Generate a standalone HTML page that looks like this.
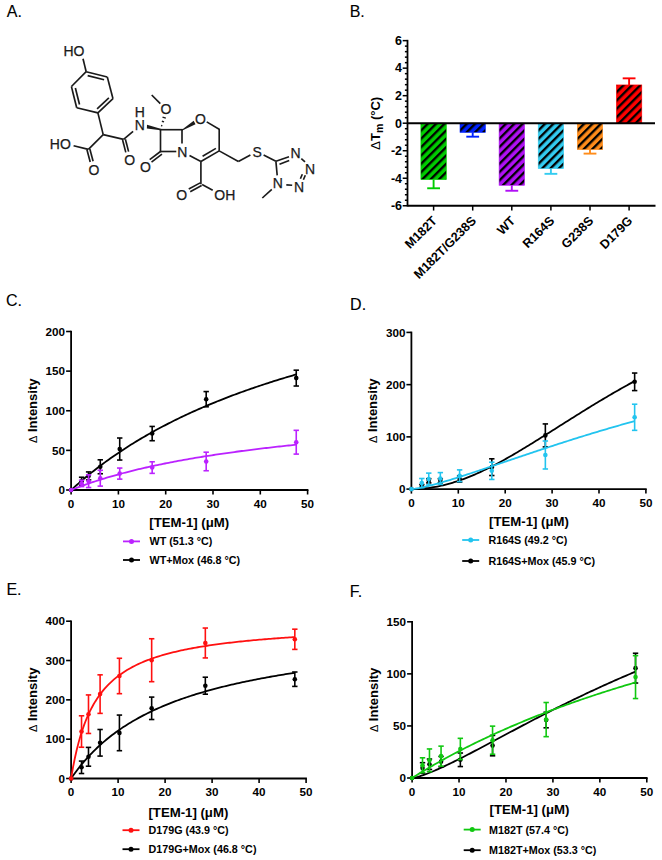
<!DOCTYPE html>
<html><head><meta charset="utf-8"><style>
html,body{margin:0;padding:0;background:#fff;}
body{width:662px;height:860px;overflow:hidden;}
svg{display:block;font-family:"Liberation Sans", sans-serif;}
</style></head><body>
<svg width="662" height="860" viewBox="0 0 662 860">
<rect width="662" height="860" fill="#fff"/>
<text x="6.8" y="17.3" font-size="16" stroke="#000" stroke-width="0.12">A.</text>
<text x="349.7" y="17.3" font-size="16" stroke="#000" stroke-width="0.12">B.</text>
<text x="6.0" y="305.5" font-size="16" stroke="#000" stroke-width="0.12">C.</text>
<text x="350.1" y="310.2" font-size="16" stroke="#000" stroke-width="0.12">D.</text>
<text x="6.4" y="595.3" font-size="16" stroke="#000" stroke-width="0.12">E.</text>
<text x="349.8" y="596.6" font-size="16" stroke="#000" stroke-width="0.12">F.</text>
<line x1="86.20" y1="71.70" x2="107.30" y2="77.00" stroke="#1a1a1a" stroke-width="1.65"/>
<line x1="107.30" y1="77.00" x2="113.00" y2="98.70" stroke="#1a1a1a" stroke-width="1.65"/>
<line x1="113.00" y1="98.70" x2="97.90" y2="112.90" stroke="#1a1a1a" stroke-width="1.65"/>
<line x1="97.90" y1="112.90" x2="76.70" y2="107.70" stroke="#1a1a1a" stroke-width="1.65"/>
<line x1="76.70" y1="107.70" x2="71.40" y2="86.50" stroke="#1a1a1a" stroke-width="1.65"/>
<line x1="71.40" y1="86.50" x2="86.20" y2="71.70" stroke="#1a1a1a" stroke-width="1.65"/>
<line x1="87.65" y1="75.67" x2="104.10" y2="79.81" stroke="#1a1a1a" stroke-width="1.65"/>
<line x1="108.87" y1="97.79" x2="97.09" y2="108.86" stroke="#1a1a1a" stroke-width="1.65"/>
<line x1="79.50" y1="104.49" x2="75.37" y2="87.95" stroke="#1a1a1a" stroke-width="1.65"/>
<text x="73.9" y="56.20" text-anchor="middle" font-size="14" fill="#1a1a1a" stroke="#1a1a1a" stroke-width="0.25">HO</text>
<line x1="83.00" y1="58.80" x2="86.20" y2="71.70" stroke="#1a1a1a" stroke-width="1.65"/>
<line x1="97.90" y1="112.90" x2="103.20" y2="134.60" stroke="#1a1a1a" stroke-width="1.65"/>
<line x1="103.20" y1="134.60" x2="88.40" y2="149.40" stroke="#1a1a1a" stroke-width="1.65"/>
<line x1="103.20" y1="134.60" x2="123.60" y2="139.40" stroke="#1a1a1a" stroke-width="1.65"/>
<line x1="88.40" y1="149.40" x2="73.60" y2="145.70" stroke="#1a1a1a" stroke-width="1.65"/>
<text x="60.35" y="149.40" text-anchor="middle" font-size="14" fill="#1a1a1a" stroke="#1a1a1a" stroke-width="0.25">HO</text>
<line x1="86.95" y1="149.78" x2="90.20" y2="162.08" stroke="#1a1a1a" stroke-width="1.65"/>
<line x1="89.85" y1="149.02" x2="93.10" y2="161.32" stroke="#1a1a1a" stroke-width="1.65"/>
<text x="93.9" y="175.30" text-anchor="middle" font-size="14" fill="#1a1a1a" stroke="#1a1a1a" stroke-width="0.25">O</text>
<line x1="123.60" y1="139.40" x2="133.10" y2="131.30" stroke="#1a1a1a" stroke-width="1.65"/>
<line x1="122.60" y1="139.96" x2="125.80" y2="152.36" stroke="#1a1a1a" stroke-width="1.65"/>
<line x1="125.40" y1="139.24" x2="128.60" y2="151.64" stroke="#1a1a1a" stroke-width="1.65"/>
<text x="129.75" y="165.30" text-anchor="middle" font-size="14" fill="#1a1a1a" stroke="#1a1a1a" stroke-width="0.25">O</text>
<text x="139.7" y="129.50" text-anchor="middle" font-size="14" fill="#1a1a1a" stroke="#1a1a1a" stroke-width="0.25">N</text>
<text x="139.7" y="116.80" text-anchor="middle" font-size="14" fill="#1a1a1a" stroke="#1a1a1a" stroke-width="0.25">H</text>
<polygon points="147.0,124.8 160.6,128.8 160.6,130.3 146.9,128.6" fill="#1a1a1a"/>
<line x1="161.03" y1="125.48" x2="162.36" y2="125.92" stroke="#1a1a1a" stroke-width="1.4"/>
<line x1="161.85" y1="121.24" x2="164.04" y2="121.96" stroke="#1a1a1a" stroke-width="1.4"/>
<line x1="162.50" y1="117.06" x2="165.82" y2="118.14" stroke="#1a1a1a" stroke-width="1.4"/>
<text x="165.9" y="114.30" text-anchor="middle" font-size="14" fill="#1a1a1a" stroke="#1a1a1a" stroke-width="0.25">O</text>
<line x1="160.30" y1="103.60" x2="151.70" y2="95.00" stroke="#1a1a1a" stroke-width="1.65"/>
<line x1="159.70" y1="129.70" x2="182.80" y2="129.70" stroke="#1a1a1a" stroke-width="1.65"/>
<line x1="160.50" y1="128.90" x2="160.50" y2="152.30" stroke="#1a1a1a" stroke-width="1.65"/>
<line x1="159.70" y1="151.50" x2="176.30" y2="151.50" stroke="#1a1a1a" stroke-width="1.65"/>
<line x1="182.00" y1="128.90" x2="182.00" y2="143.60" stroke="#1a1a1a" stroke-width="1.65"/>
<text x="182.3" y="156.60" text-anchor="middle" font-size="14" fill="#1a1a1a" stroke="#1a1a1a" stroke-width="0.25">N</text>
<line x1="160.14" y1="151.76" x2="149.69" y2="159.71" stroke="#1a1a1a" stroke-width="1.65"/>
<line x1="161.96" y1="154.14" x2="151.51" y2="162.09" stroke="#1a1a1a" stroke-width="1.65"/>
<text x="145.5" y="171.60" text-anchor="middle" font-size="14" fill="#1a1a1a" stroke="#1a1a1a" stroke-width="0.25">O</text>
<polygon points="181.6,129.9 193.7,120.8 195.5,124.3 182.3,130.5" fill="#1a1a1a"/>
<text x="200.4" y="124.40" text-anchor="middle" font-size="14" fill="#1a1a1a" stroke="#1a1a1a" stroke-width="0.25">O</text>
<line x1="206.70" y1="121.90" x2="219.20" y2="129.20" stroke="#1a1a1a" stroke-width="1.65"/>
<line x1="219.20" y1="128.70" x2="219.20" y2="150.90" stroke="#1a1a1a" stroke-width="1.65"/>
<line x1="219.20" y1="150.90" x2="200.90" y2="161.50" stroke="#1a1a1a" stroke-width="1.65"/>
<line x1="215.90" y1="148.40" x2="202.60" y2="156.20" stroke="#1a1a1a" stroke-width="1.65"/>
<line x1="189.50" y1="155.60" x2="200.90" y2="161.50" stroke="#1a1a1a" stroke-width="1.65"/>
<line x1="200.90" y1="161.50" x2="200.90" y2="184.20" stroke="#1a1a1a" stroke-width="1.65"/>
<line x1="200.18" y1="182.88" x2="188.78" y2="189.08" stroke="#1a1a1a" stroke-width="1.65"/>
<line x1="201.62" y1="185.52" x2="190.22" y2="191.72" stroke="#1a1a1a" stroke-width="1.65"/>
<text x="181.8" y="199.80" text-anchor="middle" font-size="14" fill="#1a1a1a" stroke="#1a1a1a" stroke-width="0.25">O</text>
<line x1="202.10" y1="184.50" x2="212.70" y2="190.30" stroke="#1a1a1a" stroke-width="1.65"/>
<text x="224.85" y="199.80" text-anchor="middle" font-size="14" fill="#1a1a1a" stroke="#1a1a1a" stroke-width="0.25">OH</text>
<line x1="219.20" y1="150.90" x2="238.40" y2="161.50" stroke="#1a1a1a" stroke-width="1.65"/>
<line x1="238.40" y1="161.50" x2="250.40" y2="155.10" stroke="#1a1a1a" stroke-width="1.65"/>
<text x="257.2" y="157.20" text-anchor="middle" font-size="14" fill="#1a1a1a" stroke="#1a1a1a" stroke-width="0.25">S</text>
<line x1="263.60" y1="155.00" x2="275.90" y2="161.30" stroke="#1a1a1a" stroke-width="1.65"/>
<line x1="275.90" y1="161.30" x2="289.00" y2="156.80" stroke="#1a1a1a" stroke-width="1.65"/>
<line x1="279.50" y1="164.20" x2="289.20" y2="160.60" stroke="#1a1a1a" stroke-width="1.65"/>
<text x="295.6" y="157.70" text-anchor="middle" font-size="14" fill="#1a1a1a" stroke="#1a1a1a" stroke-width="0.25">N</text>
<line x1="301.30" y1="158.60" x2="305.00" y2="161.80" stroke="#1a1a1a" stroke-width="1.65"/>
<text x="310.1" y="173.50" text-anchor="middle" font-size="14" fill="#1a1a1a" stroke="#1a1a1a" stroke-width="0.25">N</text>
<line x1="305.30" y1="175.20" x2="303.40" y2="179.70" stroke="#1a1a1a" stroke-width="1.65"/>
<line x1="302.30" y1="174.30" x2="300.40" y2="178.80" stroke="#1a1a1a" stroke-width="1.65"/>
<text x="299" y="192.00" text-anchor="middle" font-size="14" fill="#1a1a1a" stroke="#1a1a1a" stroke-width="0.25">N</text>
<line x1="292.20" y1="185.30" x2="286.30" y2="184.90" stroke="#1a1a1a" stroke-width="1.65"/>
<text x="277.9" y="187.60" text-anchor="middle" font-size="14" fill="#1a1a1a" stroke="#1a1a1a" stroke-width="0.25">N</text>
<line x1="277.20" y1="175.40" x2="275.90" y2="161.30" stroke="#1a1a1a" stroke-width="1.65"/>
<line x1="271.80" y1="189.40" x2="262.30" y2="198.00" stroke="#1a1a1a" stroke-width="1.65"/>
<defs><pattern id="hg" patternUnits="userSpaceOnUse" width="6.01" height="6.01" patternTransform="translate(0 5.86) rotate(-45)"><rect width="6.01" height="6.01" fill="#00cc00"/><rect width="6.01" height="2.45" fill="#000"/></pattern><pattern id="hb" patternUnits="userSpaceOnUse" width="6.01" height="6.01" patternTransform="translate(0 5.86) rotate(-45)"><rect width="6.01" height="6.01" fill="#0022ff"/><rect width="6.01" height="2.45" fill="#000"/></pattern><pattern id="hp" patternUnits="userSpaceOnUse" width="6.01" height="6.01" patternTransform="translate(0 5.86) rotate(-45)"><rect width="6.01" height="6.01" fill="#b010f5"/><rect width="6.01" height="2.45" fill="#000"/></pattern><pattern id="hc" patternUnits="userSpaceOnUse" width="6.01" height="6.01" patternTransform="translate(0 5.86) rotate(-45)"><rect width="6.01" height="6.01" fill="#33ccf0"/><rect width="6.01" height="2.45" fill="#000"/></pattern><pattern id="ho" patternUnits="userSpaceOnUse" width="6.01" height="6.01" patternTransform="translate(0 5.86) rotate(-45)"><rect width="6.01" height="6.01" fill="#ff8c1a"/><rect width="6.01" height="2.45" fill="#000"/></pattern><pattern id="hr" patternUnits="userSpaceOnUse" width="6.01" height="6.01" patternTransform="translate(0 5.86) rotate(-45)"><rect width="6.01" height="6.01" fill="#ff0000"/><rect width="6.01" height="2.45" fill="#000"/></pattern></defs>
<line x1="407.5" y1="39.84" x2="407.5" y2="206.56" stroke="#000" stroke-width="1.8"/>
<line x1="402.7" y1="40.64" x2="407.5" y2="40.64" stroke="#000" stroke-width="1.5"/>
<line x1="404.9" y1="46.14" x2="407.5" y2="46.14" stroke="#000" stroke-width="1.5"/>
<line x1="404.9" y1="51.65" x2="407.5" y2="51.65" stroke="#000" stroke-width="1.5"/>
<line x1="404.9" y1="57.15" x2="407.5" y2="57.15" stroke="#000" stroke-width="1.5"/>
<line x1="404.9" y1="62.66" x2="407.5" y2="62.66" stroke="#000" stroke-width="1.5"/>
<line x1="402.7" y1="68.16" x2="407.5" y2="68.16" stroke="#000" stroke-width="1.5"/>
<line x1="404.9" y1="73.66" x2="407.5" y2="73.66" stroke="#000" stroke-width="1.5"/>
<line x1="404.9" y1="79.17" x2="407.5" y2="79.17" stroke="#000" stroke-width="1.5"/>
<line x1="404.9" y1="84.67" x2="407.5" y2="84.67" stroke="#000" stroke-width="1.5"/>
<line x1="404.9" y1="90.18" x2="407.5" y2="90.18" stroke="#000" stroke-width="1.5"/>
<line x1="402.7" y1="95.68" x2="407.5" y2="95.68" stroke="#000" stroke-width="1.5"/>
<line x1="404.9" y1="101.18" x2="407.5" y2="101.18" stroke="#000" stroke-width="1.5"/>
<line x1="404.9" y1="106.69" x2="407.5" y2="106.69" stroke="#000" stroke-width="1.5"/>
<line x1="404.9" y1="112.19" x2="407.5" y2="112.19" stroke="#000" stroke-width="1.5"/>
<line x1="404.9" y1="117.70" x2="407.5" y2="117.70" stroke="#000" stroke-width="1.5"/>
<line x1="402.7" y1="123.20" x2="407.5" y2="123.20" stroke="#000" stroke-width="1.5"/>
<line x1="404.9" y1="128.70" x2="407.5" y2="128.70" stroke="#000" stroke-width="1.5"/>
<line x1="404.9" y1="134.21" x2="407.5" y2="134.21" stroke="#000" stroke-width="1.5"/>
<line x1="404.9" y1="139.71" x2="407.5" y2="139.71" stroke="#000" stroke-width="1.5"/>
<line x1="404.9" y1="145.22" x2="407.5" y2="145.22" stroke="#000" stroke-width="1.5"/>
<line x1="402.7" y1="150.72" x2="407.5" y2="150.72" stroke="#000" stroke-width="1.5"/>
<line x1="404.9" y1="156.22" x2="407.5" y2="156.22" stroke="#000" stroke-width="1.5"/>
<line x1="404.9" y1="161.73" x2="407.5" y2="161.73" stroke="#000" stroke-width="1.5"/>
<line x1="404.9" y1="167.23" x2="407.5" y2="167.23" stroke="#000" stroke-width="1.5"/>
<line x1="404.9" y1="172.74" x2="407.5" y2="172.74" stroke="#000" stroke-width="1.5"/>
<line x1="402.7" y1="178.24" x2="407.5" y2="178.24" stroke="#000" stroke-width="1.5"/>
<line x1="404.9" y1="183.74" x2="407.5" y2="183.74" stroke="#000" stroke-width="1.5"/>
<line x1="404.9" y1="189.25" x2="407.5" y2="189.25" stroke="#000" stroke-width="1.5"/>
<line x1="404.9" y1="194.75" x2="407.5" y2="194.75" stroke="#000" stroke-width="1.5"/>
<line x1="404.9" y1="200.26" x2="407.5" y2="200.26" stroke="#000" stroke-width="1.5"/>
<line x1="402.7" y1="205.76" x2="407.5" y2="205.76" stroke="#000" stroke-width="1.5"/>
<text x="402.0" y="44.94" text-anchor="end" font-size="12.5" font-weight="bold">6</text>
<text x="402.0" y="72.46" text-anchor="end" font-size="12.5" font-weight="bold">4</text>
<text x="402.0" y="99.98" text-anchor="end" font-size="12.5" font-weight="bold">2</text>
<text x="402.0" y="127.50" text-anchor="end" font-size="12.5" font-weight="bold">0</text>
<text x="402.0" y="155.02" text-anchor="end" font-size="12.5" font-weight="bold">-2</text>
<text x="402.0" y="182.54" text-anchor="end" font-size="12.5" font-weight="bold">-4</text>
<text x="402.0" y="210.06" text-anchor="end" font-size="12.5" font-weight="bold">-6</text>
<line x1="407.5" y1="205.76" x2="655.5" y2="205.76" stroke="#000" stroke-width="1.8"/>
<line x1="433.6" y1="179.62" x2="433.6" y2="188.28" stroke="#00cc00" stroke-width="1.9"/>
<line x1="427.20000000000005" y1="188.28" x2="440.0" y2="188.28" stroke="#00cc00" stroke-width="1.9"/>
<defs><pattern id="b0" patternUnits="userSpaceOnUse" width="5.904" height="5.904" patternTransform="translate(420.90 129.03) rotate(-45)"><rect width="5.904" height="5.904" fill="#00cc00"/><rect width="5.904" height="2.36" fill="#000"/></pattern></defs>
<rect x="420.90000000000003" y="123.20" width="25.4" height="56.42" fill="url(#b0)" stroke="#00cc00" stroke-width="0.6"/>
<line x1="433.6" y1="205.76" x2="433.6" y2="210.56" stroke="#000" stroke-width="1.5"/>
<text transform="translate(437.80,221.56) rotate(-45)" text-anchor="end" font-size="12.6" font-weight="bold">M182T</text>
<line x1="472.70000000000005" y1="132.42" x2="472.70000000000005" y2="136.68" stroke="#0022ff" stroke-width="1.9"/>
<line x1="466.30000000000007" y1="136.68" x2="479.1" y2="136.68" stroke="#0022ff" stroke-width="1.9"/>
<defs><pattern id="b1" patternUnits="userSpaceOnUse" width="5.904" height="5.904" patternTransform="translate(460.00 129.03) rotate(-45)"><rect width="5.904" height="5.904" fill="#0022ff"/><rect width="5.904" height="2.36" fill="#000"/></pattern></defs>
<rect x="460.00000000000006" y="123.20" width="25.4" height="9.22" fill="url(#b1)" stroke="#0022ff" stroke-width="0.6"/>
<line x1="472.70000000000005" y1="205.76" x2="472.70000000000005" y2="210.56" stroke="#000" stroke-width="1.5"/>
<text transform="translate(476.90,221.56) rotate(-45)" text-anchor="end" font-size="12.6" font-weight="bold">M182T/G238S</text>
<line x1="511.8" y1="185.26" x2="511.8" y2="190.76" stroke="#b010f5" stroke-width="1.9"/>
<line x1="505.40000000000003" y1="190.76" x2="518.2" y2="190.76" stroke="#b010f5" stroke-width="1.9"/>
<defs><pattern id="b2" patternUnits="userSpaceOnUse" width="5.904" height="5.904" patternTransform="translate(499.10 129.03) rotate(-45)"><rect width="5.904" height="5.904" fill="#b010f5"/><rect width="5.904" height="2.36" fill="#000"/></pattern></defs>
<rect x="499.1" y="123.20" width="25.4" height="62.06" fill="url(#b2)" stroke="#b010f5" stroke-width="0.6"/>
<line x1="511.8" y1="205.76" x2="511.8" y2="210.56" stroke="#000" stroke-width="1.5"/>
<text transform="translate(516.00,221.56) rotate(-45)" text-anchor="end" font-size="12.6" font-weight="bold">WT</text>
<line x1="550.9000000000001" y1="168.61" x2="550.9000000000001" y2="173.84" stroke="#33ccf0" stroke-width="1.9"/>
<line x1="544.5000000000001" y1="173.84" x2="557.3000000000001" y2="173.84" stroke="#33ccf0" stroke-width="1.9"/>
<defs><pattern id="b3" patternUnits="userSpaceOnUse" width="5.904" height="5.904" patternTransform="translate(538.20 129.03) rotate(-45)"><rect width="5.904" height="5.904" fill="#33ccf0"/><rect width="5.904" height="2.36" fill="#000"/></pattern></defs>
<rect x="538.2" y="123.20" width="25.4" height="45.41" fill="url(#b3)" stroke="#33ccf0" stroke-width="0.6"/>
<line x1="550.9000000000001" y1="205.76" x2="550.9000000000001" y2="210.56" stroke="#000" stroke-width="1.5"/>
<text transform="translate(555.10,221.56) rotate(-45)" text-anchor="end" font-size="12.6" font-weight="bold">R164S</text>
<line x1="590.0" y1="149.62" x2="590.0" y2="153.61" stroke="#ff8c1a" stroke-width="1.9"/>
<line x1="583.6" y1="153.61" x2="596.4" y2="153.61" stroke="#ff8c1a" stroke-width="1.9"/>
<defs><pattern id="b4" patternUnits="userSpaceOnUse" width="5.904" height="5.904" patternTransform="translate(577.30 129.03) rotate(-45)"><rect width="5.904" height="5.904" fill="#ff8c1a"/><rect width="5.904" height="2.36" fill="#000"/></pattern></defs>
<rect x="577.3" y="123.20" width="25.4" height="26.42" fill="url(#b4)" stroke="#ff8c1a" stroke-width="0.6"/>
<line x1="590.0" y1="205.76" x2="590.0" y2="210.56" stroke="#000" stroke-width="1.5"/>
<text transform="translate(594.20,221.56) rotate(-45)" text-anchor="end" font-size="12.6" font-weight="bold">G238S</text>
<line x1="629.1" y1="84.95" x2="629.1" y2="78.34" stroke="#ff0000" stroke-width="1.9"/>
<line x1="622.7" y1="78.34" x2="635.5" y2="78.34" stroke="#ff0000" stroke-width="1.9"/>
<defs><pattern id="b5" patternUnits="userSpaceOnUse" width="5.904" height="5.904" patternTransform="translate(616.40 90.78) rotate(-45)"><rect width="5.904" height="5.904" fill="#ff0000"/><rect width="5.904" height="2.36" fill="#000"/></pattern></defs>
<rect x="616.4" y="84.95" width="25.4" height="38.25" fill="url(#b5)" stroke="#ff0000" stroke-width="0.6"/>
<line x1="629.1" y1="205.76" x2="629.1" y2="210.56" stroke="#000" stroke-width="1.5"/>
<text transform="translate(633.30,221.56) rotate(-45)" text-anchor="end" font-size="12.6" font-weight="bold">D179G</text>
<line x1="407.5" y1="123.20" x2="655" y2="123.20" stroke="#000" stroke-width="1.9"/>
<text transform="translate(380.1,123.45) rotate(-90)" text-anchor="middle" font-size="13" font-weight="bold"><tspan font-weight="normal" font-size="13.5">Δ</tspan>T<tspan font-size="10.5" dy="3">m</tspan><tspan dy="-3"> (°C)</tspan></text>
<line x1="71.1" y1="330.70" x2="71.1" y2="490.8" stroke="#000" stroke-width="1.8"/>
<line x1="70.3" y1="490.0" x2="308.40" y2="490.0" stroke="#000" stroke-width="1.8"/>
<line x1="66.1" y1="490.00" x2="71.1" y2="490.00" stroke="#000" stroke-width="1.6"/>
<text x="65.10" y="494.20" text-anchor="end" font-size="11.7" font-weight="bold">0</text>
<line x1="66.1" y1="450.38" x2="71.1" y2="450.38" stroke="#000" stroke-width="1.6"/>
<text x="65.10" y="454.57" text-anchor="end" font-size="11.7" font-weight="bold">50</text>
<line x1="66.1" y1="410.75" x2="71.1" y2="410.75" stroke="#000" stroke-width="1.6"/>
<text x="65.10" y="414.95" text-anchor="end" font-size="11.7" font-weight="bold">100</text>
<line x1="66.1" y1="371.12" x2="71.1" y2="371.12" stroke="#000" stroke-width="1.6"/>
<text x="65.10" y="375.32" text-anchor="end" font-size="11.7" font-weight="bold">150</text>
<line x1="66.1" y1="331.50" x2="71.1" y2="331.50" stroke="#000" stroke-width="1.6"/>
<text x="65.10" y="335.70" text-anchor="end" font-size="11.7" font-weight="bold">200</text>
<line x1="71.10" y1="490.0" x2="71.10" y2="494.5" stroke="#000" stroke-width="1.6"/>
<text x="71.10" y="507.80" text-anchor="middle" font-size="11.7" font-weight="bold">0</text>
<line x1="118.40" y1="490.0" x2="118.40" y2="494.5" stroke="#000" stroke-width="1.6"/>
<text x="118.40" y="507.80" text-anchor="middle" font-size="11.7" font-weight="bold">10</text>
<line x1="165.70" y1="490.0" x2="165.70" y2="494.5" stroke="#000" stroke-width="1.6"/>
<text x="165.70" y="507.80" text-anchor="middle" font-size="11.7" font-weight="bold">20</text>
<line x1="213.00" y1="490.0" x2="213.00" y2="494.5" stroke="#000" stroke-width="1.6"/>
<text x="213.00" y="507.80" text-anchor="middle" font-size="11.7" font-weight="bold">30</text>
<line x1="260.30" y1="490.0" x2="260.30" y2="494.5" stroke="#000" stroke-width="1.6"/>
<text x="260.30" y="507.80" text-anchor="middle" font-size="11.7" font-weight="bold">40</text>
<line x1="307.60" y1="490.0" x2="307.60" y2="494.5" stroke="#000" stroke-width="1.6"/>
<text x="307.60" y="507.80" text-anchor="middle" font-size="11.7" font-weight="bold">50</text>
<text transform="translate(37.10,410.75) rotate(-90)" text-anchor="middle" font-size="13" font-weight="bold"><tspan font-weight="normal" font-size="11">Δ</tspan> Intensity</text>
<text x="189.2" y="526.6" text-anchor="middle" font-size="13.2" font-weight="bold">[TEM-1] (μM)</text>
<polyline points="71.10,490.00 72.98,488.30 74.85,486.62 76.73,484.96 78.60,483.32 80.48,481.70 82.36,480.11 84.23,478.53 86.11,476.97 87.99,475.43 89.86,473.91 91.74,472.41 93.61,470.93 95.49,469.46 97.37,468.01 99.24,466.58 101.12,465.17 103.00,463.77 104.87,462.39 106.75,461.02 108.62,459.67 110.50,458.34 112.38,457.02 114.25,455.71 116.13,454.42 118.01,453.15 119.88,451.89 121.76,450.64 123.63,449.41 125.51,448.19 127.39,446.98 129.26,445.79 131.14,444.61 133.02,443.44 134.89,442.28 136.77,441.14 138.64,440.01 140.52,438.89 142.40,437.78 144.27,436.68 146.15,435.60 148.03,434.52 149.90,433.46 151.78,432.41 153.65,431.36 155.53,430.33 157.41,429.31 159.28,428.30 161.16,427.30 163.04,426.31 164.91,425.33 166.79,424.36 168.66,423.39 170.54,422.44 172.42,421.50 174.29,420.56 176.17,419.64 178.05,418.72 179.92,417.81 181.80,416.91 183.67,416.02 185.55,415.14 187.43,414.26 189.30,413.40 191.18,412.54 193.06,411.68 194.93,410.84 196.81,410.01 198.68,409.18 200.56,408.36 202.44,407.54 204.31,406.74 206.19,405.94 208.07,405.15 209.94,404.36 211.82,403.58 213.69,402.81 215.57,402.05 217.45,401.29 219.32,400.54 221.20,399.79 223.07,399.05 224.95,398.32 226.83,397.59 228.70,396.87 230.58,396.16 232.46,395.45 234.33,394.75 236.21,394.05 238.08,393.36 239.96,392.67 241.84,391.99 243.71,391.32 245.59,390.65 247.47,389.99 249.34,389.33 251.22,388.68 253.09,388.03 254.97,387.38 256.85,386.75 258.72,386.12 260.60,385.49 262.48,384.87 264.35,384.25 266.23,383.63 268.10,383.03 269.98,382.42 271.86,381.82 273.73,381.23 275.61,380.64 277.49,380.05 279.36,379.47 281.24,378.90 283.11,378.32 284.99,377.76 286.87,377.19 288.74,376.63 290.62,376.08 292.50,375.53 294.37,374.98 296.25,374.44" fill="none" stroke="#000000" stroke-width="1.8"/>
<circle cx="71.10" cy="490.00" r="2.3" fill="#000000"/>
<line x1="81.60" y1="477.24" x2="81.60" y2="485.17" stroke="#000000" stroke-width="1.6"/>
<line x1="78.90" y1="477.24" x2="84.30" y2="477.24" stroke="#000000" stroke-width="1.6"/>
<line x1="78.90" y1="485.17" x2="84.30" y2="485.17" stroke="#000000" stroke-width="1.6"/>
<circle cx="81.60" cy="481.20" r="2.3" fill="#000000"/>
<line x1="88.60" y1="471.93" x2="88.60" y2="479.86" stroke="#000000" stroke-width="1.6"/>
<line x1="85.90" y1="471.93" x2="91.30" y2="471.93" stroke="#000000" stroke-width="1.6"/>
<line x1="85.90" y1="479.86" x2="91.30" y2="479.86" stroke="#000000" stroke-width="1.6"/>
<circle cx="88.60" cy="475.89" r="2.3" fill="#000000"/>
<line x1="100.28" y1="459.81" x2="100.28" y2="473.75" stroke="#000000" stroke-width="1.6"/>
<line x1="97.58" y1="459.81" x2="102.98" y2="459.81" stroke="#000000" stroke-width="1.6"/>
<line x1="97.58" y1="473.75" x2="102.98" y2="473.75" stroke="#000000" stroke-width="1.6"/>
<circle cx="100.28" cy="466.78" r="2.3" fill="#000000"/>
<line x1="119.72" y1="438.01" x2="119.72" y2="460.04" stroke="#000000" stroke-width="1.6"/>
<line x1="117.02" y1="438.01" x2="122.42" y2="438.01" stroke="#000000" stroke-width="1.6"/>
<line x1="117.02" y1="460.04" x2="122.42" y2="460.04" stroke="#000000" stroke-width="1.6"/>
<circle cx="119.72" cy="449.03" r="2.3" fill="#000000"/>
<line x1="152.17" y1="426.44" x2="152.17" y2="440.71" stroke="#000000" stroke-width="1.6"/>
<line x1="149.47" y1="426.44" x2="154.87" y2="426.44" stroke="#000000" stroke-width="1.6"/>
<line x1="149.47" y1="440.71" x2="154.87" y2="440.71" stroke="#000000" stroke-width="1.6"/>
<circle cx="152.17" cy="433.57" r="2.3" fill="#000000"/>
<line x1="206.19" y1="391.57" x2="206.19" y2="406.79" stroke="#000000" stroke-width="1.6"/>
<line x1="203.49" y1="391.57" x2="208.89" y2="391.57" stroke="#000000" stroke-width="1.6"/>
<line x1="203.49" y1="406.79" x2="208.89" y2="406.79" stroke="#000000" stroke-width="1.6"/>
<circle cx="206.19" cy="399.18" r="2.3" fill="#000000"/>
<line x1="296.25" y1="370.17" x2="296.25" y2="386.02" stroke="#000000" stroke-width="1.6"/>
<line x1="293.55" y1="370.17" x2="298.95" y2="370.17" stroke="#000000" stroke-width="1.6"/>
<line x1="293.55" y1="386.02" x2="298.95" y2="386.02" stroke="#000000" stroke-width="1.6"/>
<circle cx="296.25" cy="378.10" r="2.3" fill="#000000"/>
<polyline points="71.10,490.00 72.98,489.26 74.85,488.53 76.73,487.82 78.60,487.11 80.48,486.42 82.36,485.74 84.23,485.06 86.11,484.40 87.99,483.75 89.86,483.11 91.74,482.47 93.61,481.85 95.49,481.24 97.37,480.63 99.24,480.04 101.12,479.45 103.00,478.87 104.87,478.30 106.75,477.73 108.62,477.18 110.50,476.63 112.38,476.09 114.25,475.56 116.13,475.03 118.01,474.51 119.88,474.00 121.76,473.50 123.63,473.00 125.51,472.51 127.39,472.02 129.26,471.55 131.14,471.07 133.02,470.61 134.89,470.15 136.77,469.69 138.64,469.24 140.52,468.80 142.40,468.36 144.27,467.93 146.15,467.50 148.03,467.08 149.90,466.66 151.78,466.25 153.65,465.85 155.53,465.44 157.41,465.05 159.28,464.65 161.16,464.27 163.04,463.88 164.91,463.50 166.79,463.13 168.66,462.76 170.54,462.39 172.42,462.03 174.29,461.67 176.17,461.32 178.05,460.97 179.92,460.62 181.80,460.28 183.67,459.94 185.55,459.61 187.43,459.27 189.30,458.95 191.18,458.62 193.06,458.30 194.93,457.98 196.81,457.67 198.68,457.36 200.56,457.05 202.44,456.75 204.31,456.45 206.19,456.15 208.07,455.85 209.94,455.56 211.82,455.27 213.69,454.99 215.57,454.70 217.45,454.42 219.32,454.14 221.20,453.87 223.07,453.60 224.95,453.33 226.83,453.06 228.70,452.80 230.58,452.53 232.46,452.27 234.33,452.02 236.21,451.76 238.08,451.51 239.96,451.26 241.84,451.01 243.71,450.77 245.59,450.53 247.47,450.29 249.34,450.05 251.22,449.81 253.09,449.58 254.97,449.34 256.85,449.11 258.72,448.89 260.60,448.66 262.48,448.44 264.35,448.22 266.23,448.00 268.10,447.78 269.98,447.56 271.86,447.35 273.73,447.14 275.61,446.93 277.49,446.72 279.36,446.51 281.24,446.30 283.11,446.10 284.99,445.90 286.87,445.70 288.74,445.50 290.62,445.30 292.50,445.11 294.37,444.92 296.25,444.72" fill="none" stroke="#bb22ff" stroke-width="1.8"/>
<circle cx="71.10" cy="490.00" r="2.3" fill="#bb22ff"/>
<line x1="81.60" y1="480.25" x2="81.60" y2="486.59" stroke="#bb22ff" stroke-width="1.6"/>
<line x1="78.90" y1="480.25" x2="84.30" y2="480.25" stroke="#bb22ff" stroke-width="1.6"/>
<line x1="78.90" y1="486.59" x2="84.30" y2="486.59" stroke="#bb22ff" stroke-width="1.6"/>
<circle cx="81.60" cy="483.42" r="2.3" fill="#bb22ff"/>
<line x1="88.60" y1="474.86" x2="88.60" y2="487.54" stroke="#bb22ff" stroke-width="1.6"/>
<line x1="85.90" y1="474.86" x2="91.30" y2="474.86" stroke="#bb22ff" stroke-width="1.6"/>
<line x1="85.90" y1="487.54" x2="91.30" y2="487.54" stroke="#bb22ff" stroke-width="1.6"/>
<circle cx="88.60" cy="481.20" r="2.3" fill="#bb22ff"/>
<line x1="100.28" y1="470.27" x2="100.28" y2="486.12" stroke="#bb22ff" stroke-width="1.6"/>
<line x1="97.58" y1="470.27" x2="102.98" y2="470.27" stroke="#bb22ff" stroke-width="1.6"/>
<line x1="97.58" y1="486.12" x2="102.98" y2="486.12" stroke="#bb22ff" stroke-width="1.6"/>
<circle cx="100.28" cy="478.19" r="2.3" fill="#bb22ff"/>
<line x1="119.72" y1="468.05" x2="119.72" y2="479.14" stroke="#bb22ff" stroke-width="1.6"/>
<line x1="117.02" y1="468.05" x2="122.42" y2="468.05" stroke="#bb22ff" stroke-width="1.6"/>
<line x1="117.02" y1="479.14" x2="122.42" y2="479.14" stroke="#bb22ff" stroke-width="1.6"/>
<circle cx="119.72" cy="473.60" r="2.3" fill="#bb22ff"/>
<line x1="152.17" y1="461.79" x2="152.17" y2="473.36" stroke="#bb22ff" stroke-width="1.6"/>
<line x1="149.47" y1="461.79" x2="154.87" y2="461.79" stroke="#bb22ff" stroke-width="1.6"/>
<line x1="149.47" y1="473.36" x2="154.87" y2="473.36" stroke="#bb22ff" stroke-width="1.6"/>
<circle cx="152.17" cy="467.57" r="2.3" fill="#bb22ff"/>
<line x1="206.19" y1="452.20" x2="206.19" y2="470.74" stroke="#bb22ff" stroke-width="1.6"/>
<line x1="203.49" y1="452.20" x2="208.89" y2="452.20" stroke="#bb22ff" stroke-width="1.6"/>
<line x1="203.49" y1="470.74" x2="208.89" y2="470.74" stroke="#bb22ff" stroke-width="1.6"/>
<circle cx="206.19" cy="461.47" r="2.3" fill="#bb22ff"/>
<line x1="296.25" y1="430.32" x2="296.25" y2="454.10" stroke="#bb22ff" stroke-width="1.6"/>
<line x1="293.55" y1="430.32" x2="298.95" y2="430.32" stroke="#bb22ff" stroke-width="1.6"/>
<line x1="293.55" y1="454.10" x2="298.95" y2="454.10" stroke="#bb22ff" stroke-width="1.6"/>
<circle cx="296.25" cy="442.21" r="2.3" fill="#bb22ff"/>
<line x1="123" y1="541.4" x2="140" y2="541.4" stroke="#bb22ff" stroke-width="1.8"/>
<circle cx="131.5" cy="541.4" r="2.5" fill="#bb22ff"/>
<text x="149.6" y="545.4" font-size="10.75" font-weight="bold">WT (51.3 °C)</text>
<line x1="123" y1="560" x2="140" y2="560" stroke="#000000" stroke-width="1.8"/>
<circle cx="131.5" cy="560" r="2.5" fill="#000000"/>
<text x="149.6" y="564" font-size="10.75" font-weight="bold">WT+Mox (46.8 °C)</text>
<line x1="411.4" y1="331.61" x2="411.4" y2="489.90000000000003" stroke="#000" stroke-width="1.8"/>
<line x1="410.59999999999997" y1="489.1" x2="646.70" y2="489.1" stroke="#000" stroke-width="1.8"/>
<line x1="406.4" y1="489.10" x2="411.4" y2="489.10" stroke="#000" stroke-width="1.6"/>
<text x="405.40" y="493.30" text-anchor="end" font-size="11.7" font-weight="bold">0</text>
<line x1="406.4" y1="436.87" x2="411.4" y2="436.87" stroke="#000" stroke-width="1.6"/>
<text x="405.40" y="441.07" text-anchor="end" font-size="11.7" font-weight="bold">100</text>
<line x1="406.4" y1="384.64" x2="411.4" y2="384.64" stroke="#000" stroke-width="1.6"/>
<text x="405.40" y="388.84" text-anchor="end" font-size="11.7" font-weight="bold">200</text>
<line x1="406.4" y1="332.41" x2="411.4" y2="332.41" stroke="#000" stroke-width="1.6"/>
<text x="405.40" y="336.61" text-anchor="end" font-size="11.7" font-weight="bold">300</text>
<line x1="411.40" y1="489.1" x2="411.40" y2="493.6" stroke="#000" stroke-width="1.6"/>
<text x="411.40" y="506.90" text-anchor="middle" font-size="11.7" font-weight="bold">0</text>
<line x1="458.30" y1="489.1" x2="458.30" y2="493.6" stroke="#000" stroke-width="1.6"/>
<text x="458.30" y="506.90" text-anchor="middle" font-size="11.7" font-weight="bold">10</text>
<line x1="505.20" y1="489.1" x2="505.20" y2="493.6" stroke="#000" stroke-width="1.6"/>
<text x="505.20" y="506.90" text-anchor="middle" font-size="11.7" font-weight="bold">20</text>
<line x1="552.10" y1="489.1" x2="552.10" y2="493.6" stroke="#000" stroke-width="1.6"/>
<text x="552.10" y="506.90" text-anchor="middle" font-size="11.7" font-weight="bold">30</text>
<line x1="599.00" y1="489.1" x2="599.00" y2="493.6" stroke="#000" stroke-width="1.6"/>
<text x="599.00" y="506.90" text-anchor="middle" font-size="11.7" font-weight="bold">40</text>
<line x1="645.90" y1="489.1" x2="645.90" y2="493.6" stroke="#000" stroke-width="1.6"/>
<text x="645.90" y="506.90" text-anchor="middle" font-size="11.7" font-weight="bold">50</text>
<text transform="translate(377.40,410.75) rotate(-90)" text-anchor="middle" font-size="13" font-weight="bold"><tspan font-weight="normal" font-size="11">Δ</tspan> Intensity</text>
<text x="529" y="526" text-anchor="middle" font-size="13.2" font-weight="bold">[TEM-1] (μM)</text>
<polyline points="411.40,489.10 413.26,489.09 415.12,489.05 416.98,488.98 418.84,488.89 420.70,488.77 422.56,488.62 424.42,488.45 426.28,488.25 428.14,488.02 430.00,487.77 431.86,487.49 433.72,487.19 435.58,486.86 437.45,486.51 439.31,486.13 441.17,485.72 443.03,485.29 444.89,484.84 446.75,484.37 448.61,483.86 450.47,483.34 452.33,482.79 454.19,482.22 456.05,481.63 457.91,481.02 459.77,480.38 461.63,479.72 463.49,479.04 465.35,478.35 467.21,477.63 469.07,476.89 470.93,476.13 472.79,475.35 474.65,474.55 476.51,473.74 478.37,472.91 480.23,472.06 482.09,471.19 483.95,470.31 485.81,469.42 487.68,468.50 489.54,467.57 491.40,466.63 493.26,465.68 495.12,464.71 496.98,463.72 498.84,462.73 500.70,461.72 502.56,460.70 504.42,459.67 506.28,458.63 508.14,457.57 510.00,456.51 511.86,455.44 513.72,454.36 515.58,453.27 517.44,452.17 519.30,451.07 521.16,449.96 523.02,448.84 524.88,447.71 526.74,446.58 528.60,445.44 530.46,444.30 532.32,443.15 534.18,442.00 536.04,440.84 537.90,439.68 539.77,438.52 541.63,437.36 543.49,436.19 545.35,435.02 547.21,433.84 549.07,432.67 550.93,431.49 552.79,430.32 554.65,429.14 556.51,427.96 558.37,426.78 560.23,425.60 562.09,424.43 563.95,423.25 565.81,422.07 567.67,420.90 569.53,419.73 571.39,418.56 573.25,417.39 575.11,416.22 576.97,415.06 578.83,413.89 580.69,412.74 582.55,411.58 584.41,410.43 586.27,409.28 588.13,408.13 590.00,406.99 591.86,405.85 593.72,404.72 595.58,403.59 597.44,402.47 599.30,401.35 601.16,400.23 603.02,399.12 604.88,398.01 606.74,396.91 608.60,395.82 610.46,394.73 612.32,393.64 614.18,392.56 616.04,391.49 617.90,390.42 619.76,389.36 621.62,388.31 623.48,387.26 625.34,386.21 627.20,385.17 629.06,384.14 630.92,383.12 632.78,382.10 634.64,381.08" fill="none" stroke="#000000" stroke-width="1.8"/>
<circle cx="411.40" cy="489.10" r="2.3" fill="#000000"/>
<line x1="421.81" y1="484.61" x2="421.81" y2="488.79" stroke="#000000" stroke-width="1.6"/>
<line x1="419.11" y1="484.61" x2="424.51" y2="484.61" stroke="#000000" stroke-width="1.6"/>
<line x1="419.11" y1="488.79" x2="424.51" y2="488.79" stroke="#000000" stroke-width="1.6"/>
<circle cx="421.81" cy="486.70" r="2.3" fill="#000000"/>
<line x1="428.75" y1="478.71" x2="428.75" y2="482.88" stroke="#000000" stroke-width="1.6"/>
<line x1="426.05" y1="478.71" x2="431.45" y2="478.71" stroke="#000000" stroke-width="1.6"/>
<line x1="426.05" y1="482.88" x2="431.45" y2="482.88" stroke="#000000" stroke-width="1.6"/>
<circle cx="428.75" cy="480.80" r="2.3" fill="#000000"/>
<line x1="440.34" y1="478.71" x2="440.34" y2="482.88" stroke="#000000" stroke-width="1.6"/>
<line x1="437.64" y1="478.71" x2="443.04" y2="478.71" stroke="#000000" stroke-width="1.6"/>
<line x1="437.64" y1="482.88" x2="443.04" y2="482.88" stroke="#000000" stroke-width="1.6"/>
<circle cx="440.34" cy="480.80" r="2.3" fill="#000000"/>
<line x1="459.61" y1="475.89" x2="459.61" y2="482.15" stroke="#000000" stroke-width="1.6"/>
<line x1="456.91" y1="475.89" x2="462.31" y2="475.89" stroke="#000000" stroke-width="1.6"/>
<line x1="456.91" y1="482.15" x2="462.31" y2="482.15" stroke="#000000" stroke-width="1.6"/>
<circle cx="459.61" cy="479.02" r="2.3" fill="#000000"/>
<line x1="491.79" y1="458.81" x2="491.79" y2="475.52" stroke="#000000" stroke-width="1.6"/>
<line x1="489.09" y1="458.81" x2="494.49" y2="458.81" stroke="#000000" stroke-width="1.6"/>
<line x1="489.09" y1="475.52" x2="494.49" y2="475.52" stroke="#000000" stroke-width="1.6"/>
<circle cx="491.79" cy="467.16" r="2.3" fill="#000000"/>
<line x1="545.35" y1="423.92" x2="545.35" y2="446.90" stroke="#000000" stroke-width="1.6"/>
<line x1="542.65" y1="423.92" x2="548.05" y2="423.92" stroke="#000000" stroke-width="1.6"/>
<line x1="542.65" y1="446.90" x2="548.05" y2="446.90" stroke="#000000" stroke-width="1.6"/>
<circle cx="545.35" cy="435.41" r="2.3" fill="#000000"/>
<line x1="634.64" y1="373.04" x2="634.64" y2="390.59" stroke="#000000" stroke-width="1.6"/>
<line x1="631.94" y1="373.04" x2="637.34" y2="373.04" stroke="#000000" stroke-width="1.6"/>
<line x1="631.94" y1="390.59" x2="637.34" y2="390.59" stroke="#000000" stroke-width="1.6"/>
<circle cx="634.64" cy="381.82" r="2.3" fill="#000000"/>
<polyline points="411.40,489.10 413.26,488.93 415.12,488.68 416.98,488.38 418.84,488.04 420.70,487.68 422.56,487.29 424.42,486.88 426.28,486.45 428.14,486.01 430.00,485.54 431.86,485.07 433.72,484.58 435.58,484.08 437.45,483.58 439.31,483.06 441.17,482.53 443.03,481.99 444.89,481.45 446.75,480.90 448.61,480.34 450.47,479.77 452.33,479.20 454.19,478.63 456.05,478.04 457.91,477.46 459.77,476.87 461.63,476.27 463.49,475.67 465.35,475.07 467.21,474.47 469.07,473.86 470.93,473.24 472.79,472.63 474.65,472.01 476.51,471.39 478.37,470.77 480.23,470.15 482.09,469.53 483.95,468.90 485.81,468.27 487.68,467.65 489.54,467.02 491.40,466.39 493.26,465.76 495.12,465.12 496.98,464.49 498.84,463.86 500.70,463.23 502.56,462.59 504.42,461.96 506.28,461.33 508.14,460.70 510.00,460.07 511.86,459.43 513.72,458.80 515.58,458.17 517.44,457.54 519.30,456.91 521.16,456.28 523.02,455.66 524.88,455.03 526.74,454.40 528.60,453.78 530.46,453.15 532.32,452.53 534.18,451.91 536.04,451.29 537.90,450.67 539.77,450.05 541.63,449.44 543.49,448.82 545.35,448.21 547.21,447.60 549.07,446.99 550.93,446.38 552.79,445.78 554.65,445.17 556.51,444.57 558.37,443.97 560.23,443.37 562.09,442.77 563.95,442.17 565.81,441.58 567.67,440.99 569.53,440.40 571.39,439.81 573.25,439.22 575.11,438.64 576.97,438.05 578.83,437.47 580.69,436.90 582.55,436.32 584.41,435.75 586.27,435.17 588.13,434.60 590.00,434.04 591.86,433.47 593.72,432.91 595.58,432.35 597.44,431.79 599.30,431.23 601.16,430.68 603.02,430.12 604.88,429.57 606.74,429.02 608.60,428.48 610.46,427.93 612.32,427.39 614.18,426.85 616.04,426.32 617.90,425.78 619.76,425.25 621.62,424.72 623.48,424.19 625.34,423.67 627.20,423.14 629.06,422.62 630.92,422.10 632.78,421.58 634.64,421.07" fill="none" stroke="#22c4ef" stroke-width="1.8"/>
<circle cx="411.40" cy="489.10" r="2.3" fill="#22c4ef"/>
<line x1="421.81" y1="478.50" x2="421.81" y2="487.69" stroke="#22c4ef" stroke-width="1.6"/>
<line x1="419.11" y1="478.50" x2="424.51" y2="478.50" stroke="#22c4ef" stroke-width="1.6"/>
<line x1="419.11" y1="487.69" x2="424.51" y2="487.69" stroke="#22c4ef" stroke-width="1.6"/>
<circle cx="421.81" cy="483.09" r="2.3" fill="#22c4ef"/>
<line x1="428.75" y1="473.12" x2="428.75" y2="484.92" stroke="#22c4ef" stroke-width="1.6"/>
<line x1="426.05" y1="473.12" x2="431.45" y2="473.12" stroke="#22c4ef" stroke-width="1.6"/>
<line x1="426.05" y1="484.92" x2="431.45" y2="484.92" stroke="#22c4ef" stroke-width="1.6"/>
<circle cx="428.75" cy="479.02" r="2.3" fill="#22c4ef"/>
<line x1="440.34" y1="472.60" x2="440.34" y2="484.40" stroke="#22c4ef" stroke-width="1.6"/>
<line x1="437.64" y1="472.60" x2="443.04" y2="472.60" stroke="#22c4ef" stroke-width="1.6"/>
<line x1="437.64" y1="484.40" x2="443.04" y2="484.40" stroke="#22c4ef" stroke-width="1.6"/>
<circle cx="440.34" cy="478.50" r="2.3" fill="#22c4ef"/>
<line x1="459.61" y1="469.88" x2="459.61" y2="481.68" stroke="#22c4ef" stroke-width="1.6"/>
<line x1="456.91" y1="469.88" x2="462.31" y2="469.88" stroke="#22c4ef" stroke-width="1.6"/>
<line x1="456.91" y1="481.68" x2="462.31" y2="481.68" stroke="#22c4ef" stroke-width="1.6"/>
<circle cx="459.61" cy="475.78" r="2.3" fill="#22c4ef"/>
<line x1="491.79" y1="462.20" x2="491.79" y2="479.44" stroke="#22c4ef" stroke-width="1.6"/>
<line x1="489.09" y1="462.20" x2="494.49" y2="462.20" stroke="#22c4ef" stroke-width="1.6"/>
<line x1="489.09" y1="479.44" x2="494.49" y2="479.44" stroke="#22c4ef" stroke-width="1.6"/>
<circle cx="491.79" cy="470.82" r="2.3" fill="#22c4ef"/>
<line x1="545.35" y1="441.00" x2="545.35" y2="468.99" stroke="#22c4ef" stroke-width="1.6"/>
<line x1="542.65" y1="441.00" x2="548.05" y2="441.00" stroke="#22c4ef" stroke-width="1.6"/>
<line x1="542.65" y1="468.99" x2="548.05" y2="468.99" stroke="#22c4ef" stroke-width="1.6"/>
<circle cx="545.35" cy="454.99" r="2.3" fill="#22c4ef"/>
<line x1="634.64" y1="404.23" x2="634.64" y2="430.34" stroke="#22c4ef" stroke-width="1.6"/>
<line x1="631.94" y1="404.23" x2="637.34" y2="404.23" stroke="#22c4ef" stroke-width="1.6"/>
<line x1="631.94" y1="430.34" x2="637.34" y2="430.34" stroke="#22c4ef" stroke-width="1.6"/>
<circle cx="634.64" cy="417.28" r="2.3" fill="#22c4ef"/>
<line x1="462.2" y1="540" x2="479.2" y2="540" stroke="#22c4ef" stroke-width="1.8"/>
<circle cx="470.7" cy="540" r="2.5" fill="#22c4ef"/>
<text x="488.4" y="544" font-size="10.75" font-weight="bold">R164S (49.2 °C)</text>
<line x1="462.2" y1="561" x2="479.2" y2="561" stroke="#000000" stroke-width="1.8"/>
<circle cx="470.7" cy="561" r="2.5" fill="#000000"/>
<text x="488.4" y="565" font-size="10.75" font-weight="bold">R164S+Mox (45.9 °C)</text>
<line x1="71.1" y1="620.40" x2="71.1" y2="779.3" stroke="#000" stroke-width="1.8"/>
<line x1="70.3" y1="778.5" x2="306.90" y2="778.5" stroke="#000" stroke-width="1.8"/>
<line x1="66.1" y1="778.50" x2="71.1" y2="778.50" stroke="#000" stroke-width="1.6"/>
<text x="65.10" y="782.70" text-anchor="end" font-size="11.7" font-weight="bold">0</text>
<line x1="66.1" y1="739.17" x2="71.1" y2="739.17" stroke="#000" stroke-width="1.6"/>
<text x="65.10" y="743.38" text-anchor="end" font-size="11.7" font-weight="bold">100</text>
<line x1="66.1" y1="699.85" x2="71.1" y2="699.85" stroke="#000" stroke-width="1.6"/>
<text x="65.10" y="704.05" text-anchor="end" font-size="11.7" font-weight="bold">200</text>
<line x1="66.1" y1="660.52" x2="71.1" y2="660.52" stroke="#000" stroke-width="1.6"/>
<text x="65.10" y="664.73" text-anchor="end" font-size="11.7" font-weight="bold">300</text>
<line x1="66.1" y1="621.20" x2="71.1" y2="621.20" stroke="#000" stroke-width="1.6"/>
<text x="65.10" y="625.40" text-anchor="end" font-size="11.7" font-weight="bold">400</text>
<line x1="71.10" y1="778.5" x2="71.10" y2="783.0" stroke="#000" stroke-width="1.6"/>
<text x="71.10" y="796.30" text-anchor="middle" font-size="11.7" font-weight="bold">0</text>
<line x1="118.10" y1="778.5" x2="118.10" y2="783.0" stroke="#000" stroke-width="1.6"/>
<text x="118.10" y="796.30" text-anchor="middle" font-size="11.7" font-weight="bold">10</text>
<line x1="165.10" y1="778.5" x2="165.10" y2="783.0" stroke="#000" stroke-width="1.6"/>
<text x="165.10" y="796.30" text-anchor="middle" font-size="11.7" font-weight="bold">20</text>
<line x1="212.10" y1="778.5" x2="212.10" y2="783.0" stroke="#000" stroke-width="1.6"/>
<text x="212.10" y="796.30" text-anchor="middle" font-size="11.7" font-weight="bold">30</text>
<line x1="259.10" y1="778.5" x2="259.10" y2="783.0" stroke="#000" stroke-width="1.6"/>
<text x="259.10" y="796.30" text-anchor="middle" font-size="11.7" font-weight="bold">40</text>
<line x1="306.10" y1="778.5" x2="306.10" y2="783.0" stroke="#000" stroke-width="1.6"/>
<text x="306.10" y="796.30" text-anchor="middle" font-size="11.7" font-weight="bold">50</text>
<text transform="translate(37.10,699.85) rotate(-90)" text-anchor="middle" font-size="13" font-weight="bold"><tspan font-weight="normal" font-size="11">Δ</tspan> Intensity</text>
<text x="188.4" y="817" text-anchor="middle" font-size="13.2" font-weight="bold">[TEM-1] (μM)</text>
<polyline points="71.10,778.50 72.96,775.81 74.83,773.21 76.69,770.70 78.56,768.27 80.42,765.92 82.29,763.64 84.15,761.44 86.01,759.30 87.88,757.23 89.74,755.22 91.61,753.27 93.47,751.37 95.34,749.53 97.20,747.74 99.06,746.00 100.93,744.31 102.79,742.67 104.66,741.07 106.52,739.51 108.39,737.99 110.25,736.51 112.12,735.06 113.98,733.66 115.84,732.29 117.71,730.95 119.57,729.64 121.44,728.37 123.30,727.12 125.17,725.91 127.03,724.72 128.89,723.56 130.76,722.42 132.62,721.31 134.49,720.23 136.35,719.16 138.22,718.13 140.08,717.11 141.94,716.11 143.81,715.14 145.67,714.18 147.54,713.25 149.40,712.33 151.27,711.44 153.13,710.56 155.00,709.69 156.86,708.85 158.72,708.02 160.59,707.20 162.45,706.40 164.32,705.62 166.18,704.85 168.05,704.10 169.91,703.36 171.77,702.63 173.64,701.91 175.50,701.21 177.37,700.52 179.23,699.84 181.10,699.18 182.96,698.52 184.82,697.88 186.69,697.25 188.55,696.62 190.42,696.01 192.28,695.41 194.15,694.82 196.01,694.23 197.87,693.66 199.74,693.10 201.60,692.54 203.47,691.99 205.33,691.46 207.20,690.93 209.06,690.40 210.93,689.89 212.79,689.38 214.65,688.89 216.52,688.39 218.38,687.91 220.25,687.43 222.11,686.96 223.98,686.50 225.84,686.04 227.70,685.59 229.57,685.15 231.43,684.71 233.30,684.28 235.16,683.85 237.03,683.43 238.89,683.02 240.75,682.61 242.62,682.21 244.48,681.81 246.35,681.42 248.21,681.03 250.08,680.65 251.94,680.27 253.80,679.90 255.67,679.53 257.53,679.17 259.40,678.81 261.26,678.46 263.13,678.11 264.99,677.76 266.86,677.42 268.72,677.09 270.58,676.75 272.45,676.43 274.31,676.10 276.18,675.78 278.04,675.46 279.91,675.15 281.77,674.84 283.63,674.54 285.50,674.23 287.36,673.93 289.23,673.64 291.09,673.35 292.96,673.06 294.82,672.77" fill="none" stroke="#000000" stroke-width="1.8"/>
<circle cx="71.10" cy="778.50" r="2.3" fill="#000000"/>
<line x1="81.53" y1="761.08" x2="81.53" y2="773.51" stroke="#000000" stroke-width="1.6"/>
<line x1="78.83" y1="761.08" x2="84.23" y2="761.08" stroke="#000000" stroke-width="1.6"/>
<line x1="78.83" y1="773.51" x2="84.23" y2="773.51" stroke="#000000" stroke-width="1.6"/>
<circle cx="81.53" cy="767.29" r="2.3" fill="#000000"/>
<line x1="88.49" y1="747.39" x2="88.49" y2="766.19" stroke="#000000" stroke-width="1.6"/>
<line x1="85.79" y1="747.39" x2="91.19" y2="747.39" stroke="#000000" stroke-width="1.6"/>
<line x1="85.79" y1="766.19" x2="91.19" y2="766.19" stroke="#000000" stroke-width="1.6"/>
<circle cx="88.49" cy="756.79" r="2.3" fill="#000000"/>
<line x1="100.10" y1="729.50" x2="100.10" y2="756.08" stroke="#000000" stroke-width="1.6"/>
<line x1="97.40" y1="729.50" x2="102.80" y2="729.50" stroke="#000000" stroke-width="1.6"/>
<line x1="97.40" y1="756.08" x2="102.80" y2="756.08" stroke="#000000" stroke-width="1.6"/>
<circle cx="100.10" cy="742.79" r="2.3" fill="#000000"/>
<line x1="119.42" y1="715.07" x2="119.42" y2="750.70" stroke="#000000" stroke-width="1.6"/>
<line x1="116.72" y1="715.07" x2="122.12" y2="715.07" stroke="#000000" stroke-width="1.6"/>
<line x1="116.72" y1="750.70" x2="122.12" y2="750.70" stroke="#000000" stroke-width="1.6"/>
<circle cx="119.42" cy="732.88" r="2.3" fill="#000000"/>
<line x1="151.66" y1="697.10" x2="151.66" y2="719.51" stroke="#000000" stroke-width="1.6"/>
<line x1="148.96" y1="697.10" x2="154.36" y2="697.10" stroke="#000000" stroke-width="1.6"/>
<line x1="148.96" y1="719.51" x2="154.36" y2="719.51" stroke="#000000" stroke-width="1.6"/>
<circle cx="151.66" cy="708.30" r="2.3" fill="#000000"/>
<line x1="205.33" y1="677.20" x2="205.33" y2="694.19" stroke="#000000" stroke-width="1.6"/>
<line x1="202.63" y1="677.20" x2="208.03" y2="677.20" stroke="#000000" stroke-width="1.6"/>
<line x1="202.63" y1="694.19" x2="208.03" y2="694.19" stroke="#000000" stroke-width="1.6"/>
<circle cx="205.33" cy="685.69" r="2.3" fill="#000000"/>
<line x1="294.82" y1="672.01" x2="294.82" y2="686.40" stroke="#000000" stroke-width="1.6"/>
<line x1="292.12" y1="672.01" x2="297.52" y2="672.01" stroke="#000000" stroke-width="1.6"/>
<line x1="292.12" y1="686.40" x2="297.52" y2="686.40" stroke="#000000" stroke-width="1.6"/>
<circle cx="294.82" cy="679.20" r="2.3" fill="#000000"/>
<polyline points="71.10,778.50 72.96,767.67 74.83,758.24 76.69,749.95 78.56,742.61 80.42,736.05 82.29,730.17 84.15,724.86 86.01,720.04 87.88,715.65 89.74,711.64 91.61,707.95 93.47,704.55 95.34,701.41 97.20,698.49 99.06,695.78 100.93,693.25 102.79,690.89 104.66,688.68 106.52,686.60 108.39,684.65 110.25,682.81 112.12,681.07 113.98,679.43 115.84,677.88 117.71,676.41 119.57,675.01 121.44,673.68 123.30,672.41 125.17,671.21 127.03,670.06 128.89,668.96 130.76,667.91 132.62,666.90 134.49,665.94 136.35,665.02 138.22,664.13 140.08,663.28 141.94,662.46 143.81,661.67 145.67,660.92 147.54,660.19 149.40,659.48 151.27,658.81 153.13,658.15 155.00,657.52 156.86,656.91 158.72,656.32 160.59,655.74 162.45,655.19 164.32,654.65 166.18,654.13 168.05,653.63 169.91,653.14 171.77,652.67 173.64,652.21 175.50,651.76 177.37,651.33 179.23,650.90 181.10,650.49 182.96,650.09 184.82,649.71 186.69,649.33 188.55,648.96 190.42,648.60 192.28,648.25 194.15,647.91 196.01,647.58 197.87,647.25 199.74,646.93 201.60,646.63 203.47,646.32 205.33,646.03 207.20,645.74 209.06,645.46 210.93,645.19 212.79,644.92 214.65,644.65 216.52,644.40 218.38,644.15 220.25,643.90 222.11,643.66 223.98,643.42 225.84,643.19 227.70,642.96 229.57,642.74 231.43,642.53 233.30,642.31 235.16,642.10 237.03,641.90 238.89,641.70 240.75,641.50 242.62,641.31 244.48,641.12 246.35,640.93 248.21,640.75 250.08,640.57 251.94,640.40 253.80,640.22 255.67,640.05 257.53,639.89 259.40,639.72 261.26,639.56 263.13,639.40 264.99,639.25 266.86,639.10 268.72,638.94 270.58,638.80 272.45,638.65 274.31,638.51 276.18,638.37 278.04,638.23 279.91,638.09 281.77,637.96 283.63,637.83 285.50,637.70 287.36,637.57 289.23,637.44 291.09,637.32 292.96,637.20 294.82,637.08" fill="none" stroke="#ff1010" stroke-width="1.8"/>
<circle cx="71.10" cy="778.50" r="2.3" fill="#ff1010"/>
<line x1="81.53" y1="715.78" x2="81.53" y2="747.24" stroke="#ff1010" stroke-width="1.6"/>
<line x1="78.83" y1="715.78" x2="84.23" y2="715.78" stroke="#ff1010" stroke-width="1.6"/>
<line x1="78.83" y1="747.24" x2="84.23" y2="747.24" stroke="#ff1010" stroke-width="1.6"/>
<circle cx="81.53" cy="731.51" r="2.3" fill="#ff1010"/>
<line x1="88.49" y1="694.93" x2="88.49" y2="733.47" stroke="#ff1010" stroke-width="1.6"/>
<line x1="85.79" y1="694.93" x2="91.19" y2="694.93" stroke="#ff1010" stroke-width="1.6"/>
<line x1="85.79" y1="733.47" x2="91.19" y2="733.47" stroke="#ff1010" stroke-width="1.6"/>
<circle cx="88.49" cy="714.20" r="2.3" fill="#ff1010"/>
<line x1="100.10" y1="674.84" x2="100.10" y2="713.38" stroke="#ff1010" stroke-width="1.6"/>
<line x1="97.40" y1="674.84" x2="102.80" y2="674.84" stroke="#ff1010" stroke-width="1.6"/>
<line x1="97.40" y1="713.38" x2="102.80" y2="713.38" stroke="#ff1010" stroke-width="1.6"/>
<circle cx="100.10" cy="694.11" r="2.3" fill="#ff1010"/>
<line x1="119.42" y1="658.28" x2="119.42" y2="693.68" stroke="#ff1010" stroke-width="1.6"/>
<line x1="116.72" y1="658.28" x2="122.12" y2="658.28" stroke="#ff1010" stroke-width="1.6"/>
<line x1="116.72" y1="693.68" x2="122.12" y2="693.68" stroke="#ff1010" stroke-width="1.6"/>
<circle cx="119.42" cy="675.98" r="2.3" fill="#ff1010"/>
<line x1="151.66" y1="638.74" x2="151.66" y2="681.68" stroke="#ff1010" stroke-width="1.6"/>
<line x1="148.96" y1="638.74" x2="154.36" y2="638.74" stroke="#ff1010" stroke-width="1.6"/>
<line x1="148.96" y1="681.68" x2="154.36" y2="681.68" stroke="#ff1010" stroke-width="1.6"/>
<circle cx="151.66" cy="660.21" r="2.3" fill="#ff1010"/>
<line x1="205.33" y1="628.04" x2="205.33" y2="657.93" stroke="#ff1010" stroke-width="1.6"/>
<line x1="202.63" y1="628.04" x2="208.03" y2="628.04" stroke="#ff1010" stroke-width="1.6"/>
<line x1="202.63" y1="657.93" x2="208.03" y2="657.93" stroke="#ff1010" stroke-width="1.6"/>
<circle cx="205.33" cy="642.99" r="2.3" fill="#ff1010"/>
<line x1="294.82" y1="629.18" x2="294.82" y2="649.40" stroke="#ff1010" stroke-width="1.6"/>
<line x1="292.12" y1="629.18" x2="297.52" y2="629.18" stroke="#ff1010" stroke-width="1.6"/>
<line x1="292.12" y1="649.40" x2="297.52" y2="649.40" stroke="#ff1010" stroke-width="1.6"/>
<circle cx="294.82" cy="639.29" r="2.3" fill="#ff1010"/>
<line x1="122.5" y1="830.2" x2="139.5" y2="830.2" stroke="#ff1010" stroke-width="1.8"/>
<circle cx="131.0" cy="830.2" r="2.5" fill="#ff1010"/>
<text x="148.5" y="834.2" font-size="10.75" font-weight="bold">D179G (43.9 °C)</text>
<line x1="122.5" y1="849.2" x2="139.5" y2="849.2" stroke="#000000" stroke-width="1.8"/>
<circle cx="131.0" cy="849.2" r="2.5" fill="#000000"/>
<text x="148.5" y="853.2" font-size="10.75" font-weight="bold">D179G+Mox (46.8 °C)</text>
<line x1="412.1" y1="621.01" x2="412.1" y2="778.8" stroke="#000" stroke-width="1.8"/>
<line x1="411.3" y1="778.0" x2="647.60" y2="778.0" stroke="#000" stroke-width="1.8"/>
<line x1="407.1" y1="778.00" x2="412.1" y2="778.00" stroke="#000" stroke-width="1.6"/>
<text x="406.10" y="782.20" text-anchor="end" font-size="11.7" font-weight="bold">0</text>
<line x1="407.1" y1="725.93" x2="412.1" y2="725.93" stroke="#000" stroke-width="1.6"/>
<text x="406.10" y="730.13" text-anchor="end" font-size="11.7" font-weight="bold">50</text>
<line x1="407.1" y1="673.87" x2="412.1" y2="673.87" stroke="#000" stroke-width="1.6"/>
<text x="406.10" y="678.07" text-anchor="end" font-size="11.7" font-weight="bold">100</text>
<line x1="407.1" y1="621.81" x2="412.1" y2="621.81" stroke="#000" stroke-width="1.6"/>
<text x="406.10" y="626.01" text-anchor="end" font-size="11.7" font-weight="bold">150</text>
<line x1="412.10" y1="778.0" x2="412.10" y2="782.5" stroke="#000" stroke-width="1.6"/>
<text x="412.10" y="795.80" text-anchor="middle" font-size="11.7" font-weight="bold">0</text>
<line x1="459.04" y1="778.0" x2="459.04" y2="782.5" stroke="#000" stroke-width="1.6"/>
<text x="459.04" y="795.80" text-anchor="middle" font-size="11.7" font-weight="bold">10</text>
<line x1="505.98" y1="778.0" x2="505.98" y2="782.5" stroke="#000" stroke-width="1.6"/>
<text x="505.98" y="795.80" text-anchor="middle" font-size="11.7" font-weight="bold">20</text>
<line x1="552.92" y1="778.0" x2="552.92" y2="782.5" stroke="#000" stroke-width="1.6"/>
<text x="552.92" y="795.80" text-anchor="middle" font-size="11.7" font-weight="bold">30</text>
<line x1="599.86" y1="778.0" x2="599.86" y2="782.5" stroke="#000" stroke-width="1.6"/>
<text x="599.86" y="795.80" text-anchor="middle" font-size="11.7" font-weight="bold">40</text>
<line x1="646.80" y1="778.0" x2="646.80" y2="782.5" stroke="#000" stroke-width="1.6"/>
<text x="646.80" y="795.80" text-anchor="middle" font-size="11.7" font-weight="bold">50</text>
<text transform="translate(378.10,699.90) rotate(-90)" text-anchor="middle" font-size="13" font-weight="bold"><tspan font-weight="normal" font-size="11">Δ</tspan> Intensity</text>
<text x="529.5" y="814.2" text-anchor="middle" font-size="13.2" font-weight="bold">[TEM-1] (μM)</text>
<polyline points="412.10,778.00 413.96,777.73 415.82,777.32 417.69,776.83 419.55,776.29 421.41,775.70 423.27,775.07 425.13,774.41 427.00,773.72 428.86,773.00 430.72,772.26 432.58,771.50 434.44,770.72 436.31,769.92 438.17,769.10 440.03,768.27 441.89,767.42 443.75,766.56 445.62,765.69 447.48,764.81 449.34,763.91 451.20,763.01 453.06,762.10 454.92,761.18 456.79,760.25 458.65,759.32 460.51,758.37 462.37,757.43 464.23,756.47 466.10,755.52 467.96,754.55 469.82,753.59 471.68,752.61 473.54,751.64 475.41,750.66 477.27,749.68 479.13,748.70 480.99,747.71 482.85,746.72 484.72,745.73 486.58,744.74 488.44,743.75 490.30,742.75 492.16,741.76 494.03,740.77 495.89,739.77 497.75,738.77 499.61,737.78 501.47,736.78 503.34,735.79 505.20,734.79 507.06,733.80 508.92,732.81 510.78,731.82 512.65,730.83 514.51,729.84 516.37,728.85 518.23,727.86 520.09,726.88 521.96,725.89 523.82,724.91 525.68,723.93 527.54,722.95 529.40,721.98 531.27,721.01 533.13,720.04 534.99,719.07 536.85,718.10 538.71,717.14 540.57,716.18 542.44,715.22 544.30,714.27 546.16,713.31 548.02,712.36 549.88,711.42 551.75,710.47 553.61,709.53 555.47,708.60 557.33,707.66 559.19,706.73 561.06,705.80 562.92,704.88 564.78,703.96 566.64,703.04 568.50,702.13 570.37,701.22 572.23,700.31 574.09,699.40 575.95,698.50 577.81,697.61 579.68,696.71 581.54,695.82 583.40,694.94 585.26,694.06 587.12,693.18 588.99,692.30 590.85,691.43 592.71,690.56 594.57,689.70 596.43,688.84 598.30,687.98 600.16,687.13 602.02,686.28 603.88,685.43 605.74,684.59 607.61,683.75 609.47,682.92 611.33,682.09 613.19,681.26 615.05,680.44 616.91,679.62 618.78,678.80 620.64,677.99 622.50,677.18 624.36,676.38 626.22,675.58 628.09,674.78 629.95,673.99 631.81,673.20 633.67,672.42 635.53,671.63" fill="none" stroke="#000000" stroke-width="1.8"/>
<circle cx="412.10" cy="778.00" r="2.3" fill="#000000"/>
<line x1="422.52" y1="762.69" x2="422.52" y2="773.11" stroke="#000000" stroke-width="1.6"/>
<line x1="419.82" y1="762.69" x2="425.22" y2="762.69" stroke="#000000" stroke-width="1.6"/>
<line x1="419.82" y1="773.11" x2="425.22" y2="773.11" stroke="#000000" stroke-width="1.6"/>
<circle cx="422.52" cy="767.90" r="2.3" fill="#000000"/>
<line x1="429.47" y1="759.05" x2="429.47" y2="769.46" stroke="#000000" stroke-width="1.6"/>
<line x1="426.77" y1="759.05" x2="432.17" y2="759.05" stroke="#000000" stroke-width="1.6"/>
<line x1="426.77" y1="769.46" x2="432.17" y2="769.46" stroke="#000000" stroke-width="1.6"/>
<circle cx="429.47" cy="764.25" r="2.3" fill="#000000"/>
<line x1="441.06" y1="756.45" x2="441.06" y2="766.86" stroke="#000000" stroke-width="1.6"/>
<line x1="438.36" y1="756.45" x2="443.76" y2="756.45" stroke="#000000" stroke-width="1.6"/>
<line x1="438.36" y1="766.86" x2="443.76" y2="766.86" stroke="#000000" stroke-width="1.6"/>
<circle cx="441.06" cy="761.65" r="2.3" fill="#000000"/>
<line x1="460.35" y1="753.01" x2="460.35" y2="766.55" stroke="#000000" stroke-width="1.6"/>
<line x1="457.65" y1="753.01" x2="463.05" y2="753.01" stroke="#000000" stroke-width="1.6"/>
<line x1="457.65" y1="766.55" x2="463.05" y2="766.55" stroke="#000000" stroke-width="1.6"/>
<circle cx="460.35" cy="759.78" r="2.3" fill="#000000"/>
<line x1="492.56" y1="735.41" x2="492.56" y2="755.82" stroke="#000000" stroke-width="1.6"/>
<line x1="489.86" y1="735.41" x2="495.26" y2="735.41" stroke="#000000" stroke-width="1.6"/>
<line x1="489.86" y1="755.82" x2="495.26" y2="755.82" stroke="#000000" stroke-width="1.6"/>
<circle cx="492.56" cy="745.62" r="2.3" fill="#000000"/>
<line x1="546.16" y1="712.19" x2="546.16" y2="727.81" stroke="#000000" stroke-width="1.6"/>
<line x1="543.46" y1="712.19" x2="548.86" y2="712.19" stroke="#000000" stroke-width="1.6"/>
<line x1="543.46" y1="727.81" x2="548.86" y2="727.81" stroke="#000000" stroke-width="1.6"/>
<circle cx="546.16" cy="720.00" r="2.3" fill="#000000"/>
<line x1="635.53" y1="653.25" x2="635.53" y2="683.03" stroke="#000000" stroke-width="1.6"/>
<line x1="632.83" y1="653.25" x2="638.23" y2="653.25" stroke="#000000" stroke-width="1.6"/>
<line x1="632.83" y1="683.03" x2="638.23" y2="683.03" stroke="#000000" stroke-width="1.6"/>
<circle cx="635.53" cy="668.14" r="2.3" fill="#000000"/>
<polyline points="412.10,778.00 413.96,776.83 415.82,775.67 417.69,774.52 419.55,773.38 421.41,772.25 423.27,771.13 425.13,770.02 427.00,768.91 428.86,767.82 430.72,766.73 432.58,765.65 434.44,764.59 436.31,763.52 438.17,762.47 440.03,761.42 441.89,760.39 443.75,759.36 445.62,758.33 447.48,757.32 449.34,756.31 451.20,755.31 453.06,754.32 454.92,753.33 456.79,752.35 458.65,751.38 460.51,750.41 462.37,749.46 464.23,748.50 466.10,747.56 467.96,746.62 469.82,745.69 471.68,744.76 473.54,743.84 475.41,742.93 477.27,742.02 479.13,741.12 480.99,740.23 482.85,739.34 484.72,738.46 486.58,737.58 488.44,736.71 490.30,735.84 492.16,734.99 494.03,734.13 495.89,733.28 497.75,732.44 499.61,731.60 501.47,730.77 503.34,729.95 505.20,729.13 507.06,728.31 508.92,727.50 510.78,726.70 512.65,725.90 514.51,725.10 516.37,724.31 518.23,723.53 520.09,722.75 521.96,721.97 523.82,721.20 525.68,720.44 527.54,719.68 529.40,718.92 531.27,718.17 533.13,717.42 534.99,716.68 536.85,715.94 538.71,715.21 540.57,714.48 542.44,713.76 544.30,713.04 546.16,712.32 548.02,711.61 549.88,710.90 551.75,710.20 553.61,709.50 555.47,708.81 557.33,708.12 559.19,707.43 561.06,706.75 562.92,706.07 564.78,705.40 566.64,704.73 568.50,704.06 570.37,703.40 572.23,702.74 574.09,702.09 575.95,701.43 577.81,700.79 579.68,700.14 581.54,699.50 583.40,698.87 585.26,698.23 587.12,697.61 588.99,696.98 590.85,696.36 592.71,695.74 594.57,695.12 596.43,694.51 598.30,693.90 600.16,693.30 602.02,692.70 603.88,692.10 605.74,691.50 607.61,690.91 609.47,690.32 611.33,689.74 613.19,689.15 615.05,688.57 616.91,688.00 618.78,687.43 620.64,686.86 622.50,686.29 624.36,685.72 626.22,685.16 628.09,684.61 629.95,684.05 631.81,683.50 633.67,682.95 635.53,682.40" fill="none" stroke="#10c810" stroke-width="1.8"/>
<circle cx="412.10" cy="778.00" r="2.3" fill="#10c810"/>
<line x1="422.52" y1="757.80" x2="422.52" y2="772.59" stroke="#10c810" stroke-width="1.6"/>
<line x1="419.82" y1="757.80" x2="425.22" y2="757.80" stroke="#10c810" stroke-width="1.6"/>
<line x1="419.82" y1="772.59" x2="425.22" y2="772.59" stroke="#10c810" stroke-width="1.6"/>
<circle cx="422.52" cy="765.19" r="2.3" fill="#10c810"/>
<line x1="429.47" y1="748.95" x2="429.47" y2="771.65" stroke="#10c810" stroke-width="1.6"/>
<line x1="426.77" y1="748.95" x2="432.17" y2="748.95" stroke="#10c810" stroke-width="1.6"/>
<line x1="426.77" y1="771.65" x2="432.17" y2="771.65" stroke="#10c810" stroke-width="1.6"/>
<circle cx="429.47" cy="760.30" r="2.3" fill="#10c810"/>
<line x1="441.06" y1="746.14" x2="441.06" y2="766.13" stroke="#10c810" stroke-width="1.6"/>
<line x1="438.36" y1="746.14" x2="443.76" y2="746.14" stroke="#10c810" stroke-width="1.6"/>
<line x1="438.36" y1="766.13" x2="443.76" y2="766.13" stroke="#10c810" stroke-width="1.6"/>
<circle cx="441.06" cy="756.13" r="2.3" fill="#10c810"/>
<line x1="460.35" y1="738.33" x2="460.35" y2="759.57" stroke="#10c810" stroke-width="1.6"/>
<line x1="457.65" y1="738.33" x2="463.05" y2="738.33" stroke="#10c810" stroke-width="1.6"/>
<line x1="457.65" y1="759.57" x2="463.05" y2="759.57" stroke="#10c810" stroke-width="1.6"/>
<circle cx="460.35" cy="748.95" r="2.3" fill="#10c810"/>
<line x1="492.56" y1="726.14" x2="492.56" y2="754.26" stroke="#10c810" stroke-width="1.6"/>
<line x1="489.86" y1="726.14" x2="495.26" y2="726.14" stroke="#10c810" stroke-width="1.6"/>
<line x1="489.86" y1="754.26" x2="495.26" y2="754.26" stroke="#10c810" stroke-width="1.6"/>
<circle cx="492.56" cy="740.20" r="2.3" fill="#10c810"/>
<line x1="546.16" y1="702.51" x2="546.16" y2="736.66" stroke="#10c810" stroke-width="1.6"/>
<line x1="543.46" y1="702.51" x2="548.86" y2="702.51" stroke="#10c810" stroke-width="1.6"/>
<line x1="543.46" y1="736.66" x2="548.86" y2="736.66" stroke="#10c810" stroke-width="1.6"/>
<circle cx="546.16" cy="719.58" r="2.3" fill="#10c810"/>
<line x1="635.53" y1="655.65" x2="635.53" y2="698.55" stroke="#10c810" stroke-width="1.6"/>
<line x1="632.83" y1="655.65" x2="638.23" y2="655.65" stroke="#10c810" stroke-width="1.6"/>
<line x1="632.83" y1="698.55" x2="638.23" y2="698.55" stroke="#10c810" stroke-width="1.6"/>
<circle cx="635.53" cy="677.10" r="2.3" fill="#10c810"/>
<line x1="463.7" y1="829.6" x2="480.7" y2="829.6" stroke="#10c810" stroke-width="1.8"/>
<circle cx="472.2" cy="829.6" r="2.5" fill="#10c810"/>
<text x="489.0" y="833.6" font-size="10.75" font-weight="bold">M182T (57.4 °C)</text>
<line x1="463.7" y1="850.2" x2="480.7" y2="850.2" stroke="#000000" stroke-width="1.8"/>
<circle cx="472.2" cy="850.2" r="2.5" fill="#000000"/>
<text x="489.0" y="854.2" font-size="10.75" font-weight="bold">M182T+Mox (53.3 °C)</text>
</svg>
</body></html>
